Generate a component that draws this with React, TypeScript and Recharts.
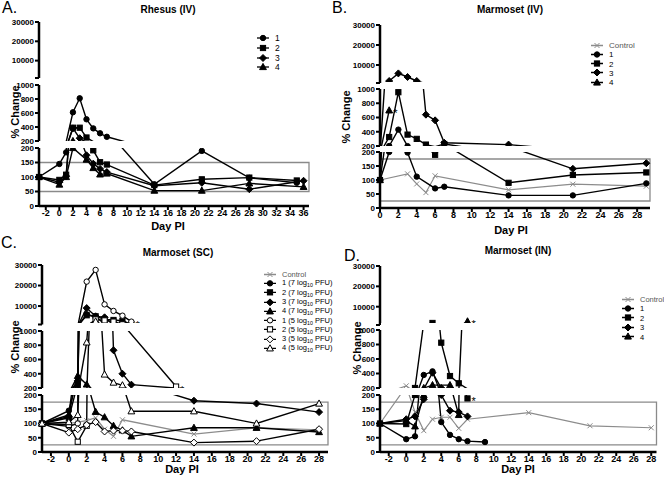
import React from "react";
import { LineChart, Line, XAxis, YAxis, ReferenceArea } from "recharts";

const FONT = "'Liberation Sans', Arial, Helvetica, sans-serif";

// A. Rhesus (IV)
const rhesusDays = [-3, 0, 1, 2, 3, 4, 5, 6, 7, 14, 21, 28, 35, 36];
const rhesusTicks = [-2, 0, 2, 4, 6, 8, 10, 12, 14, 16, 18, 20, 22, 24, 26, 28, 30, 32, 34, 36];
const rhesus1 = [100, 145, 185, 610, 810, 510, 380, 310, 260, 75, 190, 97, 80, null];
const rhesus2 = [100, 90, 108, 390, 390, 250, 192, 151, 143, 72, 92, 98, 88, null];
const rhesus3 = [100, 82, 103, 380, 240, 175, 146, 128, 117, 70, 80, 58, null, 87];
const rhesus4 = [100, 74, 100, 200, null, 160, 131, 109, 112, 53, 53, 78, null, 66];

// B. Marmoset (IV)
const ivDays = [0, 1, 2, 3, 4, 5, 6, 7, 14, 21, 29];
const ivTicks = [0, 2, 4, 6, 8, 10, 12, 14, 16, 18, 20, 22, 24, 26, 28];
const ivControl = [100, null, null, 122, 86, 55, 115, null, 65, 85, 78];
const iv1 = [100, 200, 430, 198, 112, null, 70, 76, 45, 45, 88];
const iv2 = [100, 326, 955, 360, 300, 220, 190, 228, 90, 118, 127];
const iv3 = [100, 2000, 5800, 4000, 2000, 640, 560, 245, 220, 140, 160];
const iv4 = [100, 700, null, null, null, null, null, null, null, null, null];

// C. Marmoset (SC)
const scDays = [-3, 0, 1, 2, 3, 4, 5, 6, 7, 12, 14, 21, 28];
const scTicks = [-2, 0, 2, 4, 6, 8, 10, 12, 14, 16, 18, 20, 22, 24, 26, 28];
const scControl = [100, 100, 105, 110, 120, 80, 55, 113, null, null, 63, 85, 78];
const sc1High = [100, 145, 260, 6000, 4800, 1300, null, null, null, null, null, null, null];
const sc2High = [100, 120, 240, 5500, 5000, 3500, 3200, 2800, 1100, null, null, null, null];
const sc3High = [100, 125, 300, 9000, 5000, 4500, 730, 400, 247, null, 180, 170, 140];
const sc4High = [100, 130, 370, 250, 141, 122, 92, 76, 55, null, 85, 85, 70];
const sc1Low = [100, 90, 100, 21900, 27600, 10800, 7600, 5300, 2400, null, null, null, null];
const sc2Low = [100, 95, 36, 92, 3500, 3000, 2400, 1100, null, 220, null, null, null];
const sc3Low = [100, 68, 80, 95, 105, 72, 75, 75, 72, null, 33, 38, 80];
const sc4Low = [100, 105, 130, 840, 2500, 390, 276, 238, 143, null, 143, 100, 170];

// D. Marmoset (IN)
const inDays = [-3, 0, 1, 2, 3, 4, 5, 6, 7, 9, 14, 21, 28];
const inTicks = [-2, 0, 2, 4, 6, 8, 10, 12, 14, 16, 18, 20, 22, 24, 26, 28];
const inControl = [100, 230, 140, 75, 115, 122, 122, 83, 115, null, 138, 92, 85];
const in1 = [100, 45, 55, 380, 430, 105, 60, 45, 38, 35, null, null, null];
const in2 = [100, 98, 200, null, 2000, 825, 365, 265, 188, null, null, null, null];
const in3 = [100, 115, 125, 185, 410, 200, 145, 140, 125, null, null, null, null];
const in4 = [100, 110, 90, 200, 240, null, 240, 130, 2800, null, null, null, null];

const SEG_DOMAINS: [number, number][] = [[1000, 30000], [200, 1000], [0, 200]];
const SEG_TICKS = [[1000, 10000, 20000, 30000], [200, 400, 600, 800, 1000], [0, 50, 100, 150, 200]];

type Marker = "circle" | "square" | "diamond" | "triangle" | "cross";
type Series = { label: string; values: (number | null)[]; marker: Marker; open?: boolean; gray?: boolean; star?: number };

const panels = [
  {
    letter: "A.", title: "Rhesus (IV)", days: rhesusDays, xTicks: rhesusTicks,
    series: [
      { label: "1", values: rhesus1, marker: "circle" },
      { label: "2", values: rhesus2, marker: "square" },
      { label: "3", values: rhesus3, marker: "diamond" },
      { label: "4", values: rhesus4, marker: "triangle" },
    ] as Series[],
    plotLeft: 39, plotW: 270, xDomain: [-3, 36.8], segs: [[22, 78], [85, 141], [148, 206]], box: [50, 150],
    letterPos: [2, 0], titlePos: [168, 9], yLabelPos: [15, 112], xLabelPos: [168, 226],
    legend: { x: 263, y: 38, dy: 9.8, fs: 8.5 },
  },
  {
    letter: "B.", title: "Marmoset (IV)", days: ivDays, xTicks: ivTicks,
    series: [
      { label: "Control", values: ivControl, marker: "cross", gray: true },
      { label: "1", values: iv1, marker: "circle" },
      { label: "2", values: iv2, marker: "square" },
      { label: "3", values: iv3, marker: "diamond" },
      { label: "4", values: iv4, marker: "triangle", star: 1 },
    ] as Series[],
    plotLeft: 380, plotW: 270, xDomain: [0, 29.4], segs: [[25, 83], [89, 146], [152, 208]], box: [25, 175],
    letterPos: [332, 0], titlePos: [510, 9], yLabelPos: [346, 117], xLabelPos: [511, 230],
    legend: { x: 597, y: 45, dy: 9.3, fs: 8 },
  },
  {
    letter: "C.", title: "Marmoset (SC)", days: scDays, xTicks: scTicks,
    series: [
      { label: "Control", values: scControl, marker: "cross", gray: true },
      { label: "1 (7 log10 PFU)", values: sc1High, marker: "circle", star: 4 },
      { label: "2 (7 log10 PFU)", values: sc2High, marker: "square", star: 7 },
      { label: "3 (7 log10 PFU)", values: sc3High, marker: "diamond" },
      { label: "4 (7 log10 PFU)", values: sc4High, marker: "triangle" },
      { label: "1 (5 log10 PFU)", values: sc1Low, marker: "circle", open: true, star: 7 },
      { label: "2 (5 log10 PFU)", values: sc2Low, marker: "square", open: true, star: 12 },
      { label: "3 (5 log10 PFU)", values: sc3Low, marker: "diamond", open: true },
      { label: "4 (5 log10 PFU)", values: sc4Low, marker: "triangle", open: true },
    ] as Series[],
    plotLeft: 42, plotW: 286, xDomain: [-3, 29], segs: [[265, 324.5], [331, 388], [395, 452]], box: [25, 175],
    letterPos: [1, 235], titlePos: [178, 252], yLabelPos: [15, 347], xLabelPos: [182, 469],
    legend: { x: 270, y: 274, dy: 9.3, fs: 7.5 },
  },
  {
    letter: "D.", title: "Marmoset (IN)", days: inDays, xTicks: inTicks,
    series: [
      { label: "Control", values: inControl, marker: "cross", gray: true },
      { label: "1", values: in1, marker: "circle" },
      { label: "2", values: in2, marker: "square", star: 7 },
      { label: "3", values: in3, marker: "diamond" },
      { label: "4", values: in4, marker: "triangle", star: 7 },
    ] as Series[],
    plotLeft: 379.5, plotW: 276.5, xDomain: [-3, 28.6], segs: [[265.5, 324.5], [330, 388], [395, 452]], box: [25, 175],
    letterPos: [344, 248], titlePos: [518, 250], yLabelPos: [357, 348], xLabelPos: [518, 469],
    legend: { x: 628, y: 299, dy: 9.4, fs: 7.5 },
  },
];

function drawMarker(m: Marker, open: boolean, gray: boolean, cx: number, cy: number) {
  const stroke = gray ? "#8c8c8c" : "#000";
  const fill = open ? "#fff" : stroke;
  if (m === "circle") return <circle cx={cx} cy={cy} r={2.7} fill={fill} stroke={stroke} strokeWidth={1} />;
  if (m === "square") return <rect x={cx - 2.6} y={cy - 2.6} width={5.2} height={5.2} fill={fill} stroke={stroke} strokeWidth={1} />;
  if (m === "diamond")
    return <polygon points={`${cx},${cy - 3.5} ${cx + 3.5},${cy} ${cx},${cy + 3.5} ${cx - 3.5},${cy}`} fill={fill} stroke={stroke} strokeWidth={1} />;
  if (m === "triangle")
    return <polygon points={`${cx},${cy - 3.6} ${cx + 3.4},${cy + 2.6} ${cx - 3.4},${cy + 2.6}`} fill={fill} stroke={stroke} strokeWidth={1} />;
  return (
    <g stroke={stroke} strokeWidth={1}>
      <line x1={cx - 2.5} y1={cy - 2.5} x2={cx + 2.5} y2={cy + 2.5} />
      <line x1={cx - 2.5} y1={cy + 2.5} x2={cx + 2.5} y2={cy - 2.5} />
    </g>
  );
}

// only draw a marker in the segment whose range holds the value
function makeDot(s: Series, k: number) {
  const [lo, hi] = SEG_DOMAINS[k];
  return (p: any) => {
    const { cx, cy, payload, index, value } = p;
    const v = Array.isArray(value) ? value[1] : value;
    if (cx == null || cy == null || isNaN(cy) || v == null || v < lo * 0.98 || v > hi * 1.02) return <g key={index} />;
    return (
      <g key={index}>
        {drawMarker(s.marker, !!s.open, !!s.gray, cx, cy)}
        {s.star === payload.day && (
          <text x={cx + 4} y={cy + 7} fontSize={11} fontFamily={FONT} fill="#000">*</text>
        )}
      </g>
    );
  };
}

function Segment({ p, k, rows }: { p: any; k: number; rows: any[] }) {
  const [y0, y1] = p.segs[k];
  const isBottom = k === 2;
  const padTop = 6;
  const padBot = isBottom ? 0 : 6;
  const xH = isBottom ? 16 : 0;
  const yW = 40;
  const w = yW + p.plotW + 8;
  const h = y1 - y0 + padTop + padBot + xH;
  return (
    <div style={{ position: "absolute", left: p.plotLeft - yW, top: y0 - padTop }}>
      <LineChart width={w} height={h} data={rows} margin={{ top: padTop, right: 8, bottom: padBot, left: 0 }}>
        <XAxis
          type="number"
          dataKey="day"
          domain={p.xDomain}
          ticks={p.xTicks}
          hide={!isBottom}
          height={xH}
          interval={0}
          tickSize={4}
          tickMargin={0}
          axisLine={{ stroke: "#000", strokeWidth: 2.5 }}
          tickLine={{ stroke: "#000", strokeWidth: 2 }}
          tick={{ fontSize: 9, fontWeight: 700, fill: "#000", fontFamily: FONT }}
        />
        <YAxis
          type="number"
          domain={SEG_DOMAINS[k]}
          ticks={SEG_TICKS[k]}
          allowDataOverflow
          interval={0}
          width={yW}
          tickSize={4}
          tickMargin={1}
          axisLine={{ stroke: "#000", strokeWidth: 2.5 }}
          tickLine={{ stroke: "#000", strokeWidth: 2 }}
          tick={{ fontSize: 8, fontWeight: 700, fill: "#000", fontFamily: FONT }}
          tickFormatter={(v: number) => (k === 0 && v === 1000 ? "" : String(v))}
        />
        {isBottom && (
          <ReferenceArea x1={p.xDomain[0]} x2={p.xDomain[1]} y1={p.box[0]} y2={p.box[1]} fill="none" fillOpacity={0} stroke="#8a8a8a" strokeWidth={1.3} />
        )}
        {p.series.map((s: Series, j: number) => (
          <Line
            key={j}
            type="linear"
            dataKey={"s" + j}
            stroke={s.gray ? "#8c8c8c" : "#000"}
            strokeWidth={s.gray ? 1.2 : 1.4}
            dot={makeDot(s, k)}
            activeDot={false}
            connectNulls
            isAnimationActive={false}
          />
        ))}
      </LineChart>
      {k === 0 && (
        // hides the squashed sub-1000 traces that hug the bottom of the top segment
        <div style={{ position: "absolute", left: yW + 1.5, top: padTop + (y1 - y0) - 1.2, width: p.plotW + 8, height: 3, background: "#fff" }} />
      )}
    </div>
  );
}

function LegendLabel({ text }: { text: string }) {
  const i = text.indexOf("log10");
  if (i < 0) return <>{text}</>;
  return (
    <>
      {text.slice(0, i)}log<sub style={{ fontSize: "0.7em", verticalAlign: "-0.25em" }}>10</sub>
      {text.slice(i + 5)}
    </>
  );
}

function Panel({ p }: { p: any }) {
  const rows = p.days.map((d: number, i: number) => {
    const r: any = { day: d };
    p.series.forEach((s: Series, j: number) => {
      r["s" + j] = s.values[i];
    });
    return r;
  });
  const txt: React.CSSProperties = { position: "absolute", fontFamily: FONT, color: "#000", whiteSpace: "nowrap" };
  return (
    <>
      <div style={{ ...txt, left: p.letterPos[0], top: p.letterPos[1], fontSize: 16, lineHeight: "16px" }}>{p.letter}</div>
      <div style={{ ...txt, left: p.titlePos[0], top: p.titlePos[1], transform: "translate(-50%,-50%)", fontSize: 10, fontWeight: 700 }}>
        {p.title}
      </div>
      <div style={{ ...txt, left: p.yLabelPos[0], top: p.yLabelPos[1], transform: "translate(-50%,-50%) rotate(-90deg)", fontSize: 11, fontWeight: 700 }}>
        % Change
      </div>
      <div style={{ ...txt, left: p.xLabelPos[0], top: p.xLabelPos[1], transform: "translate(-50%,-50%)", fontSize: 11, fontWeight: 700 }}>
        Day PI
      </div>
      {[0, 1, 2].map((k) => (
        <Segment key={k} p={p} k={k} rows={rows} />
      ))}
      {p.series.map((s: Series, j: number) => (
        <div
          key={j}
          style={{ ...txt, left: p.legend.x - 7, top: p.legend.y + j * p.legend.dy, transform: "translateY(-50%)", display: "flex", alignItems: "center", fontSize: p.legend.fs, color: s.gray ? "#555" : "#000" }}
        >
          <svg width={14} height={8} style={{ marginRight: 5 }}>
            <line x1={1} y1={4} x2={13} y2={4} stroke={s.gray ? "#8c8c8c" : "#000"} strokeWidth={1.3} />
            {drawMarker(s.marker, !!s.open, !!s.gray, 7, 4)}
          </svg>
          <span>
            <LegendLabel text={s.label} />
          </span>
        </div>
      ))}
    </>
  );
}

export default function App() {
  return (
    <div style={{ position: "absolute", left: 0, top: 0, width: 664, height: 479, background: "#fff", overflow: "hidden" }}>
      {panels.map((p, i) => (
        <Panel key={i} p={p} />
      ))}
    </div>
  );
}
